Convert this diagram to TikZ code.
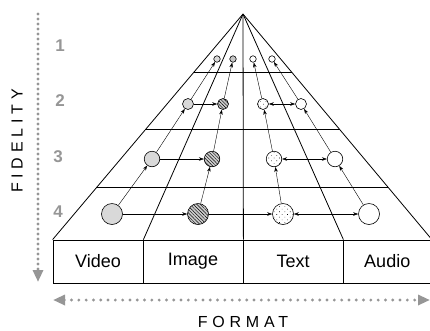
\documentclass[tikz,border=0pt]{standalone}
\usepackage{fontspec}
\setmainfont{Liberation Sans}
\newfontfamily\spacedfont[LetterSpace=30]{Liberation Sans}
\usetikzlibrary{arrows.meta, patterns.meta, calc}
\definecolor{axisgray}{RGB}{150,150,150}
\tikzset{axistip/.tip={Triangle[length=12pt, width=10pt]}}

\begin{document}
\begin{tikzpicture}[
            x=1pt, y=-1pt,
            cell/.style={rectangle, draw, line width=0.8pt, minimum height=43pt, inner sep=0pt, font=\fontsize{18}{20}\selectfont},
            dot/.style={circle, draw, line width=0.6pt, inner sep=0pt},
            lvlone/.style={dot, minimum size=6.5pt},
            lvltwo/.style={dot, minimum size=11pt},
            lvlthree/.style={dot, minimum size=15.5pt},
            lvlfour/.style={dot, minimum size=21pt},
            vid/.style={fill=gray!30},
            img/.style={fill=gray!40, postaction={pattern={Lines[angle=-45, distance=2.4pt, line width=0.45pt]}}},
            txt/.style={fill=white, postaction={pattern={Dots[distance=3.8pt, radius=0.45pt, angle=45]}}},
            aud/.style={fill=white},
            arr/.style={-{Stealth[length=5pt, width=3.5pt]}, line width=0.4pt},
            biarr/.style={{Stealth[length=5pt, width=3.5pt]}-{Stealth[length=5pt, width=3.5pt]}, line width=0.4pt},
            level/.style={text=axisgray, font=\fontsize{17}{18}\selectfont\bfseries},
            axislabel/.style={font=\spacedfont\fontsize{16}{18}\selectfont},
            axisdots/.style={axisgray, line width=3.2pt, line cap=round, dash pattern=on 0pt off #1}
        ]
            \useasboundingbox (0,0) rectangle (430,330);

            % Format cells
            \node[cell, minimum width=90pt] (video) at (98,261.5) {Video};
            \node[cell, minimum width=100pt] (image) at (193,261.5) {Image};
            \node[cell, minimum width=100pt] (text) at (293,261.5) {Text};
            \node[cell, minimum width=88.5pt] (audio) at (387.25,261.5) {Audio};

            % Pyramid
            \coordinate (apex) at (243,14);
            \foreach \c in {video.north west, video.north east, image.north east, text.north east, audio.north east}
                \draw[line width=0.8pt] (apex) -- (\c);
            \foreach \t in {0.257, 0.513, 0.770}
                \draw[line width=0.8pt] ($(apex)!\t!(video.north west)$) -- ($(apex)!\t!(audio.north east)$);

            % Fidelity levels
            \node[level] (one) at (60,46) {1};
            \node[level] (two) at (60,101) {2};
            \node[level] (three) at (58,157) {3};
            \node[level] (four) at (58,212) {4};

            % Versions
            \node[lvlfour, vid] (v4) at (112,214) {};
            \node[lvlfour, img] (i4) at (198,214) {};
            \node[lvlfour, txt] (t4) at (283,214) {};
            \node[lvlfour, aud] (a4) at (369,214) {};
            \node[lvlthree, vid] (v3) at (152,159) {};
            \node[lvlthree, img] (i3) at (212,159) {};
            \node[lvlthree, txt] (t3) at (274,159) {};
            \node[lvlthree, aud] (a3) at (335,159) {};
            \node[lvltwo, vid] (v2) at (188,104) {};
            \node[lvltwo, img] (i2) at (223,104) {};
            \node[lvltwo, txt] (t2) at (263,104) {};
            \node[lvltwo, aud] (a2) at (301,104) {};
            \node[lvlone, vid] (v1) at (217,59) {};
            \node[lvlone, fill=gray!45] (i1) at (233,59) {};
            \node[lvlone, aud] (t1) at (253,59) {};
            \node[lvlone, aud] (a1) at (272,59) {};

            % Arrows
            \path[arr]
                (v4) edge (v3)  (v3) edge (v2)  (v2) edge (v1)
                (i4) edge (i3)  (i3) edge (i2)  (i2) edge (i1)
                (t4) edge (t3)  (t3) edge (t2)  (t2) edge (t1)
                (a4) edge (a3)  (a3) edge (a2)  (a2) edge (a1)
                (v4) edge (i4)  (i4) edge (t4)
                (v3) edge (i3)
                (v2) edge (i2);
            \path[biarr]
                (t4) edge (a4)
                (t3) edge (a3)
                (t2) edge (a2);

            % Axes
            \coordinate (ftop) at (38,14);
            \coordinate (fbot) at (38,282);
            \coordinate (fleft) at (53,300);
            \coordinate (fright) at (430,300);
            \draw[axisdots=5pt, -axistip] (ftop) -- (fbot);
            \draw[axisdots=7.3pt, axistip-axistip] (fleft) -- (fright);
            \node[axislabel, rotate=90] (fidelity) at (17,141) {FIDELITY};
            \node[axislabel] (format) at (243,322) {FORMAT};

        \end{tikzpicture}
\end{document}
